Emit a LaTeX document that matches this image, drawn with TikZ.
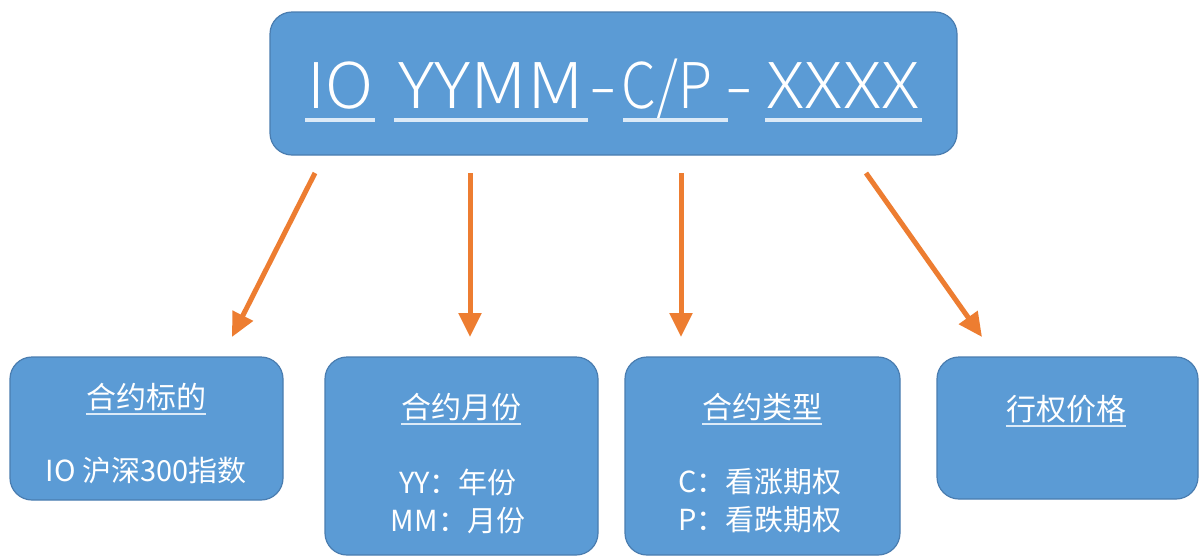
\documentclass[tikz,border=0pt]{standalone}
\usepackage{fontspec}
\setmainfont{Noto Sans CJK SC}
\newfontfamily\thinfont{Noto Sans CJK SC Light}
\usetikzlibrary{arrows.meta}
\definecolor{boxfill}{HTML}{5B9BD5}
\definecolor{boxedge}{HTML}{4A7DB0}
\definecolor{arrorange}{HTML}{ED7D31}
\definecolor{ulcol}{HTML}{DCEAF7}
\begin{document}
\begin{tikzpicture}[x=1pt,y=-1pt,
  box/.style={draw=boxedge,line width=1.2pt,fill=boxfill,rounded corners=22pt,inner sep=0pt},
  arr/.style={draw=arrorange,line width=5pt,-{Triangle[length=24pt,width=22pt]}},
  toptxt/.style={text=white,inner sep=0pt,anchor=base,font=\thinfont\fontsize{63}{70}\selectfont},
  hdr/.style={text=white,inner sep=0pt,font=\fontsize{30}{34}\selectfont},
  body/.style={text=white,inner sep=0pt,align=center,font=\fontsize{29}{38}\selectfont},
  uline/.style={draw=ulcol,line width=4pt},
  hline/.style={draw=ulcol,line width=1.6pt},
]
\useasboundingbox (0,0) rectangle (1203,558);
\fill[white] (0,0) rectangle (1203,558);

% top box
\node[box,minimum width=687pt,minimum height=143pt] (top) at (613.5,83.5) {};
\node[toptxt] (pIO) at (341,108) {\scalebox{1.05}[1]{IO}};
\node[toptxt] (pYM) at (491,108) {\scalebox{1.14}[1]{YYMM}};
\node[toptxt] (d1) at (603,108) {\scalebox{1.3}[1]{-}};
\node[toptxt] (pCP) at (667,108) {\scalebox{0.88}[1]{C/P}};
\node[toptxt] (d2) at (739,108) {\scalebox{1.3}[1]{-}};
\node[toptxt] (pX) at (843,108) {\scalebox{1.12}[1]{XXXX}};
\draw[uline] (305,120) -- (375,120);
\draw[uline] (394,120) -- (588,120);
\draw[uline] (623,120) -- (728,120);
\draw[uline] (765,120) -- (922,120);

% bottom boxes
\node[box,minimum width=273pt,minimum height=143pt] (b1) at (146.5,428.5) {};
\node[box,minimum width=273pt,minimum height=198pt] (b2) at (461.5,456) {};
\node[box,minimum width=275pt,minimum height=198pt] (b3) at (762.5,456) {};
\node[box,minimum width=261pt,minimum height=142pt] (b4) at (1067.5,428) {};

% box texts
\node[hdr] (h1) at (146,397) {合约标的};
\draw[hline] ([yshift=-3pt]h1.south west) -- ([yshift=-3pt]h1.south east);
\node[body] (t1) at (146,470) {IO 沪深300指数};

\node[hdr] (h2) at (461,407) {合约月份};
\draw[hline] ([yshift=-3pt]h2.south west) -- ([yshift=-3pt]h2.south east);
\node[body] (t2) at (458,501) {YY：年份\\MM：月份};

\node[hdr] (h3) at (762,407) {合约类型};
\draw[hline] ([yshift=-3pt]h3.south west) -- ([yshift=-3pt]h3.south east);
\node[body] (t3) at (760,501) {C：看涨期权\\P：看跌期权};

\node[hdr] (h4) at (1066,409) {行权价格};
\draw[hline] ([yshift=-3pt]h4.south west) -- ([yshift=-3pt]h4.south east);

% arrows
\coordinate (s1) at (315,173);
\coordinate (e1) at (232,337);
\coordinate (s2) at (470,173);
\coordinate (e2) at (470,337);
\coordinate (s3) at (681,173);
\coordinate (e3) at (681,337);
\coordinate (s4) at (866,173);
\coordinate (e4) at (982,337);
\draw[arr] (s1) -- (e1);
\draw[arr] (s2) -- (e2);
\draw[arr] (s3) -- (e3);
\draw[arr] (s4) -- (e4);
\end{tikzpicture}
\end{document}
